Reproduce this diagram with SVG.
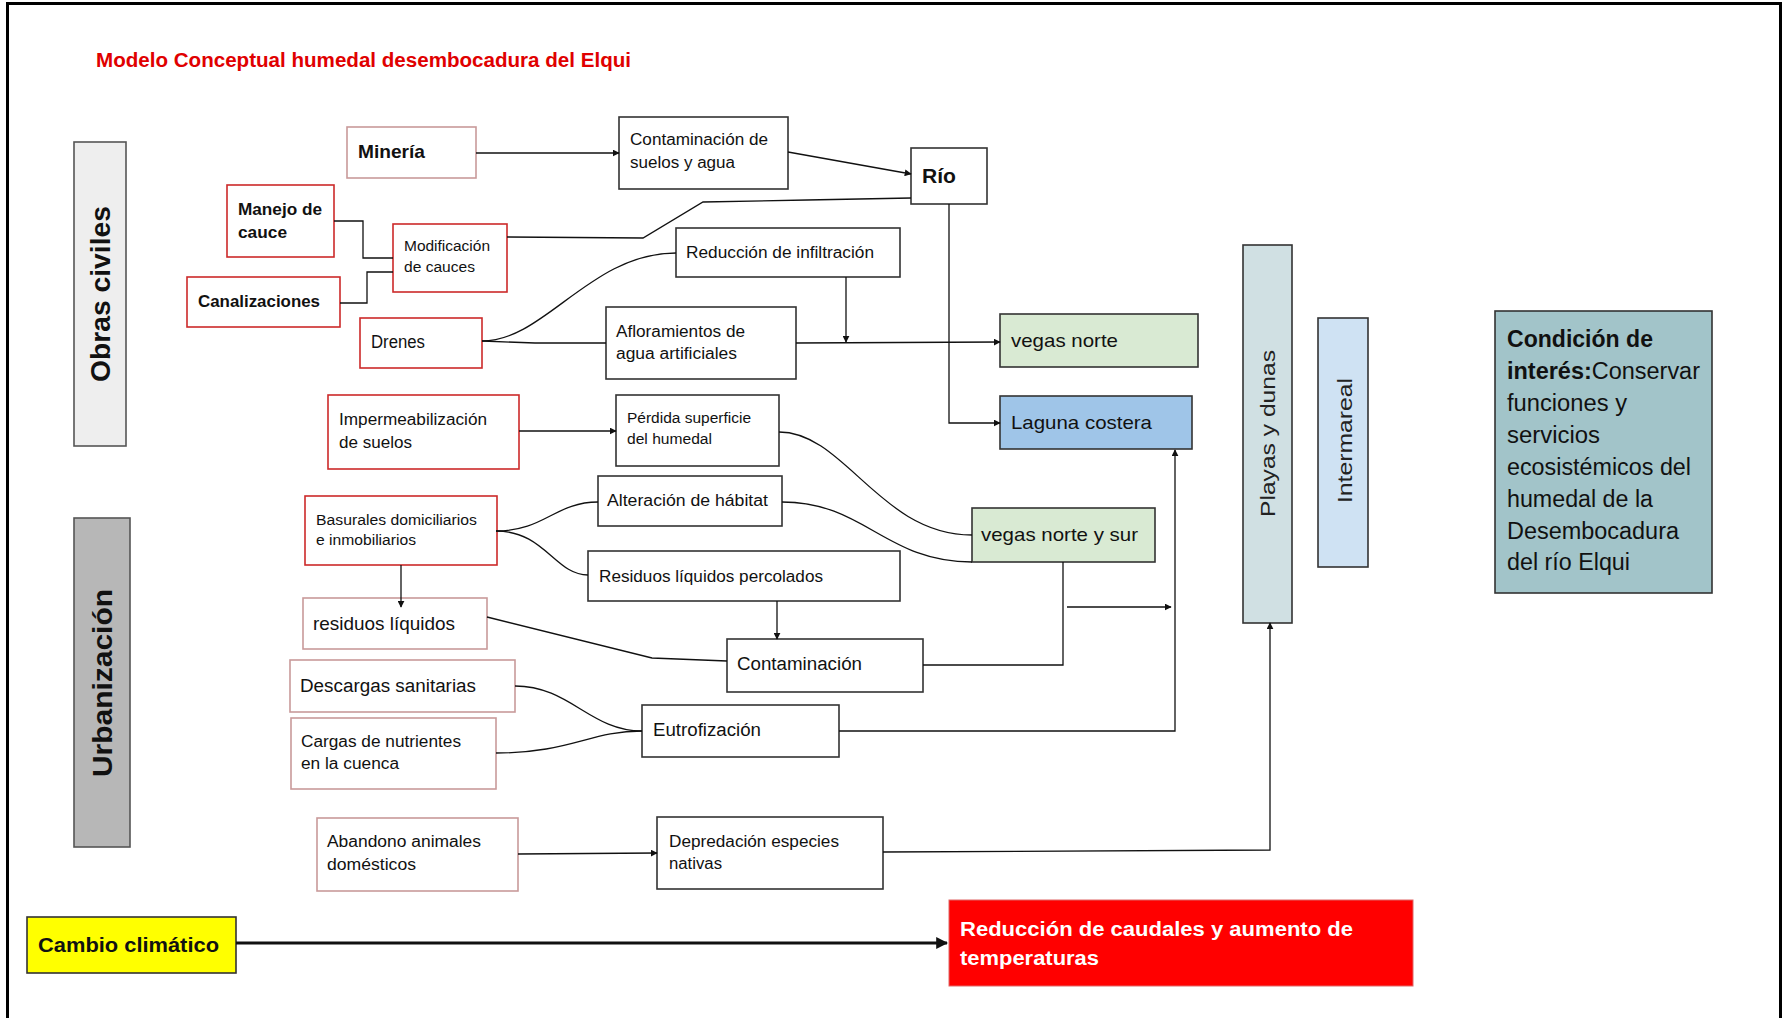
<svg xmlns="http://www.w3.org/2000/svg" width="1786" height="1018" viewBox="0 0 1786 1018">
  <style>
    text { font-family: "Liberation Sans", Arial, sans-serif; fill: #111; }
    .b { font-weight: bold; }
    .box { fill: #fff; stroke: #333; stroke-width: 1.6; }
    .red { fill: #fff; stroke: #cc2a2a; stroke-width: 1.6; }
    .pink { fill: #fff; stroke: #c99a9a; stroke-width: 1.6; }
    .band { stroke: #555; stroke-width: 1.6; }
    .cn { fill: none; stroke: #111; stroke-width: 1.3; }
    .cna { fill: none; stroke: #111; stroke-width: 1.3; marker-end: url(#ah); }
    .f14 { font-size: 14px; }
    .f16 { font-size: 16px; }
    .f18 { font-size: 18px; }
    .f19 { font-size: 19px; }
    .f20 { font-size: 20px; }
    .f23 { font-size: 23px; }
  </style>
  <defs>
    <marker id="ah" viewBox="0 0 10 10" refX="9" refY="5" markerWidth="7" markerHeight="7" markerUnits="userSpaceOnUse" orient="auto">
      <path d="M0,0 L10,5 L0,10 z" fill="#111"/>
    </marker>
    <marker id="ahb" viewBox="0 0 10 10" refX="9" refY="5" markerWidth="12" markerHeight="12" markerUnits="userSpaceOnUse" orient="auto">
      <path d="M0,0 L10,5 L0,10 z" fill="#111"/>
    </marker>
  </defs>

  <rect width="1786" height="1018" fill="#fff"/>
  <!-- outer frame -->
  <rect x="7.5" y="3.5" width="1773" height="1040" fill="none" stroke="#000" stroke-width="3"/>

  <text class="b f20" x="96" y="67" style="fill:#e00000" textLength="535" lengthAdjust="spacingAndGlyphs">Modelo Conceptual humedal desembocadura del Elqui</text>

  <!-- side bands -->
  <g id="obras-civiles">
    <rect class="band" x="74" y="142" width="52" height="304" fill="#eeeeee"/>
    <text class="b" font-size="27" transform="translate(110,382) rotate(-90)" textLength="176" lengthAdjust="spacingAndGlyphs">Obras civiles</text>
  </g>
  <g id="urbanizacion">
    <rect class="band" x="74" y="518" width="56" height="329" fill="#b7b7b7"/>
    <text class="b" font-size="27" transform="translate(112,777) rotate(-90)" textLength="188" lengthAdjust="spacingAndGlyphs">Urbanización</text>
  </g>

  <g id="mineria">
    <rect class="pink" x="347" y="127" width="129" height="51"/>
    <text class="b f19" x="358" y="158" textLength="67" lengthAdjust="spacingAndGlyphs">Minería</text>
  </g>
  <g id="contaminacion-suelos">
    <rect class="box" x="619" y="117" width="169" height="72"/>
    <text class="f16" x="630" y="145" textLength="138" lengthAdjust="spacingAndGlyphs">Contaminación de</text>
    <text class="f16" x="630" y="168" textLength="105" lengthAdjust="spacingAndGlyphs">suelos y agua</text>
  </g>
  <g id="manejo-cauce">
    <rect class="red" x="227" y="185" width="107" height="72"/>
    <text class="b f16" x="238" y="215" textLength="84" lengthAdjust="spacingAndGlyphs">Manejo de</text>
    <text class="b f16" x="238" y="238" textLength="49" lengthAdjust="spacingAndGlyphs">cauce</text>
  </g>
  <g id="modificacion-cauces">
    <rect class="red" x="393" y="224" width="114" height="68"/>
    <text class="f14" x="404" y="251" textLength="86" lengthAdjust="spacingAndGlyphs">Modificación</text>
    <text class="f14" x="404" y="272" textLength="71" lengthAdjust="spacingAndGlyphs">de cauces</text>
  </g>
  <g id="canalizaciones">
    <rect class="red" x="187" y="277" width="153" height="50"/>
    <text class="b f16" x="198" y="307" textLength="122" lengthAdjust="spacingAndGlyphs">Canalizaciones</text>
  </g>
  <g id="drenes">
    <rect class="red" x="360" y="318" width="122" height="50"/>
    <text class="f18" x="371" y="348" textLength="54" lengthAdjust="spacingAndGlyphs">Drenes</text>
  </g>
  <g id="reduccion-infiltracion">
    <rect class="box" x="676" y="228" width="224" height="49"/>
    <text class="f16" x="686" y="258" textLength="188" lengthAdjust="spacingAndGlyphs">Reducción de infiltración</text>
  </g>
  <g id="afloramientos">
    <rect class="box" x="606" y="307" width="190" height="72"/>
    <text class="f16" x="616" y="337" textLength="129" lengthAdjust="spacingAndGlyphs">Afloramientos de</text>
    <text class="f16" x="616" y="359" textLength="121" lengthAdjust="spacingAndGlyphs">agua artificiales</text>
  </g>
  <g id="rio">
    <rect class="box" x="911" y="148" width="76" height="56"/>
    <text class="b" font-size="21" x="922" y="183" textLength="34" lengthAdjust="spacingAndGlyphs">Río</text>
  </g>
  <g id="vegas-norte">
    <rect class="box" x="1000" y="314" width="198" height="53" style="fill:#d9ead3"/>
    <text class="f19" x="1011" y="347" textLength="107" lengthAdjust="spacingAndGlyphs">vegas norte</text>
  </g>
  <g id="laguna-costera">
    <rect class="box" x="1000" y="396" width="192" height="53" style="fill:#9fc5e8"/>
    <text class="f19" x="1011" y="429" textLength="141" lengthAdjust="spacingAndGlyphs">Laguna costera</text>
  </g>
  <g id="vegas-norte-sur">
    <rect class="box" x="972" y="508" width="183" height="54" style="fill:#d9ead3"/>
    <text class="f19" x="981" y="541" textLength="157" lengthAdjust="spacingAndGlyphs">vegas norte y sur</text>
  </g>
  <g id="playas-dunas">
    <rect class="box" x="1243" y="245" width="49" height="378" style="fill:#d0e0e3"/>
    <text font-size="21" transform="translate(1275,517) rotate(-90)" style="fill:#222" textLength="167" lengthAdjust="spacingAndGlyphs">Playas y dunas</text>
  </g>
  <g id="intermareal">
    <rect class="box" x="1318" y="318" width="50" height="249" style="fill:#cfe2f3"/>
    <text font-size="20" transform="translate(1352,503) rotate(-90)" style="fill:#222" textLength="125" lengthAdjust="spacingAndGlyphs">Intermareal</text>
  </g>
  <g id="condicion-interes">
    <rect class="box" x="1495" y="311" width="217" height="282" style="fill:#a2c4c9"/>
    <text class="f23 b" x="1507" y="347" textLength="146" lengthAdjust="spacingAndGlyphs">Condición de</text>
    <text class="f23" x="1507" y="379" textLength="193" lengthAdjust="spacingAndGlyphs"><tspan class="b">interés:</tspan>Conservar</text>
    <text class="f23" x="1507" y="411" textLength="120" lengthAdjust="spacingAndGlyphs">funciones y</text>
    <text class="f23" x="1507" y="443" textLength="93" lengthAdjust="spacingAndGlyphs">servicios</text>
    <text class="f23" x="1507" y="475" textLength="184" lengthAdjust="spacingAndGlyphs">ecosistémicos del</text>
    <text class="f23" x="1507" y="507" textLength="146" lengthAdjust="spacingAndGlyphs">humedal de la</text>
    <text class="f23" x="1507" y="539" textLength="172" lengthAdjust="spacingAndGlyphs">Desembocadura</text>
    <text class="f23" x="1507" y="570" textLength="123" lengthAdjust="spacingAndGlyphs">del río Elqui</text>
  </g>

  <g id="impermeabilizacion">
    <rect class="red" x="328" y="395" width="191" height="74"/>
    <text class="f16" x="339" y="425" textLength="148" lengthAdjust="spacingAndGlyphs">Impermeabilización</text>
    <text class="f16" x="339" y="448" textLength="73" lengthAdjust="spacingAndGlyphs">de suelos</text>
  </g>
  <g id="perdida-superficie">
    <rect class="box" x="616" y="395" width="163" height="71"/>
    <text class="f14" x="627" y="423" textLength="124" lengthAdjust="spacingAndGlyphs">Pérdida superficie</text>
    <text class="f14" x="627" y="444" textLength="85" lengthAdjust="spacingAndGlyphs">del humedal</text>
  </g>
  <g id="alteracion-habitat">
    <rect class="box" x="598" y="476" width="184" height="50"/>
    <text class="f16" x="607" y="506" textLength="161" lengthAdjust="spacingAndGlyphs">Alteración de hábitat</text>
  </g>
  <g id="basurales">
    <rect class="red" x="305" y="496" width="192" height="69"/>
    <text class="f14" x="316" y="525" textLength="161" lengthAdjust="spacingAndGlyphs">Basurales domiciliarios</text>
    <text class="f14" x="316" y="545" textLength="100" lengthAdjust="spacingAndGlyphs">e inmobiliarios</text>
  </g>
  <g id="residuos-percolados">
    <rect class="box" x="588" y="551" width="312" height="50"/>
    <text class="f16" x="599" y="582" textLength="224" lengthAdjust="spacingAndGlyphs">Residuos líquidos percolados</text>
  </g>
  <g id="residuos-liquidos">
    <rect class="pink" x="303" y="598" width="184" height="51"/>
    <text class="f19" x="313" y="630" textLength="142" lengthAdjust="spacingAndGlyphs">residuos líquidos</text>
  </g>
  <g id="contaminacion">
    <rect class="box" x="727" y="639" width="196" height="53"/>
    <text class="f18" x="737" y="670" textLength="125" lengthAdjust="spacingAndGlyphs">Contaminación</text>
  </g>
  <g id="descargas-sanitarias">
    <rect class="pink" x="290" y="660" width="225" height="52"/>
    <text class="f18" x="300" y="692" textLength="176" lengthAdjust="spacingAndGlyphs">Descargas sanitarias</text>
  </g>
  <g id="cargas-nutrientes">
    <rect class="pink" x="291" y="718" width="205" height="71"/>
    <text class="f16" x="301" y="747" textLength="160" lengthAdjust="spacingAndGlyphs">Cargas de nutrientes</text>
    <text class="f16" x="301" y="769" textLength="98" lengthAdjust="spacingAndGlyphs">en la cuenca</text>
  </g>
  <g id="eutrofizacion">
    <rect class="box" x="642" y="705" width="197" height="52"/>
    <text class="f18" x="653" y="736" textLength="108" lengthAdjust="spacingAndGlyphs">Eutrofización</text>
  </g>
  <g id="abandono-animales">
    <rect class="pink" x="317" y="818" width="201" height="73"/>
    <text class="f16" x="327" y="847" textLength="154" lengthAdjust="spacingAndGlyphs">Abandono animales</text>
    <text class="f16" x="327" y="870" textLength="89" lengthAdjust="spacingAndGlyphs">domésticos</text>
  </g>
  <g id="depredacion">
    <rect class="box" x="657" y="817" width="226" height="72"/>
    <text class="f16" x="669" y="847" textLength="170" lengthAdjust="spacingAndGlyphs">Depredación especies</text>
    <text class="f16" x="669" y="869" textLength="53" lengthAdjust="spacingAndGlyphs">nativas</text>
  </g>
  <g id="cambio-climatico">
    <rect class="box" x="27" y="917" width="209" height="56" style="fill:#ffff00"/>
    <text class="b f20" x="38" y="952" textLength="181" lengthAdjust="spacingAndGlyphs">Cambio climático</text>
  </g>
  <g id="reduccion-caudales">
    <rect x="949" y="900" width="464" height="86" fill="#ff0000" stroke="#e06666" stroke-width="1"/>
    <text class="b f20" x="960" y="936" style="fill:#fff" textLength="393" lengthAdjust="spacingAndGlyphs">Reducción de caudales y aumento de</text>
    <text class="b f20" x="960" y="965" style="fill:#fff" textLength="139" lengthAdjust="spacingAndGlyphs">temperaturas</text>
  </g>

  <!-- connectors, drawn over the boxes so arrow tips stay visible -->
  <g id="connectors">
    <path class="cna" d="M476,153 L619,153"/>
    <path class="cna" d="M788,152 L911,174"/>
    <path class="cn" d="M334,221 H363 V258 H393"/>
    <path class="cn" d="M340,303 H367 V272 H393"/>
    <path class="cn" d="M507,237 L643,238 L703,202 L807,200 L911,198"/>
    <path class="cna" d="M949,204 V423 H1000"/>
    <path class="cna" d="M846,277 V342"/>
    <path class="cn" d="M482,341 C545,341 590,253 676,253"/>
    <path class="cn" d="M482,341 L535,343 L606,343"/>
    <path class="cna" d="M796,343 L1000,342"/>
    <path class="cna" d="M519,431 L616,431"/>
    <path class="cn" d="M779,432 C845,432 880,535 972,535"/>
    <path class="cn" d="M782,502 C865,502 885,562 972,562"/>
    <path class="cn" d="M496,531 C545,531 555,502 598,502"/>
    <path class="cn" d="M496,531 C545,531 555,575 588,575"/>
    <path class="cna" d="M401,565 V607"/>
    <path class="cna" d="M777,601 V639"/>
    <path class="cn" d="M487,617 L652,658 L727,661"/>
    <path class="cn" d="M923,665 H1063 V562"/>
    <path class="cna" d="M1067,607 H1171"/>
    <path class="cna" d="M839,731 H1175 V450"/>
    <path class="cn" d="M515,686 C570,686 590,731 642,731"/>
    <path class="cn" d="M496,753 C570,753 590,731 642,731"/>
    <path class="cna" d="M518,854 L657,853"/>
    <path class="cna" d="M883,852 L1270,850 V623"/>
    <path fill="none" stroke="#111" stroke-width="3" marker-end="url(#ahb)" d="M236,943 H947"/>
  </g>
</svg>
